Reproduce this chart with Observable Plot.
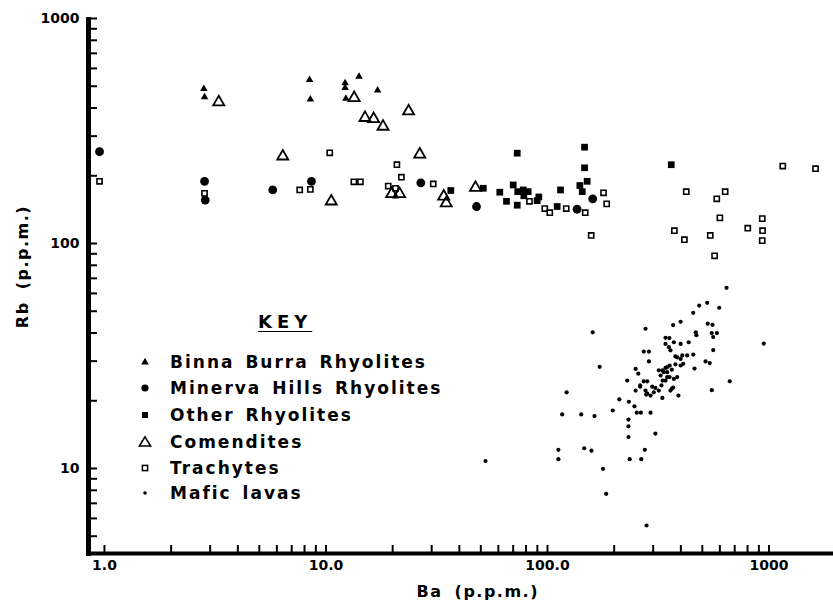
<!DOCTYPE html>
<html>
<head>
<meta charset="utf-8">
<script src="https://cdn.jsdelivr.net/npm/d3@7"></script>
<script src="https://cdn.jsdelivr.net/npm/@observablehq/plot@0.6"></script>
<style>
  html, body { margin: 0; padding: 0; background: #fff; }
  #wrap { position: relative; width: 833px; height: 605px; overflow: hidden; font-family: "DejaVu Sans", sans-serif; font-weight: bold; color: #000; }
  #wrap svg.plot { position: absolute; left: 0; top: 0; }
  .title { position: absolute; white-space: nowrap; font-size: 16px; letter-spacing: 1.5px; word-spacing: 5px; transform-origin: center; }
  #legend { position: absolute; left: 0; top: 0; }
  .row { position: absolute; left: 136px; height: 24px; display: flex; align-items: center; white-space: nowrap; font-size: 17px; letter-spacing: 2px; word-spacing: 3px; }
  .row svg { width: 18px; height: 18px; margin-right: 16px; }
  #key { position: absolute; left: 258px; top: 311px; font-size: 18px; letter-spacing: 5px; text-decoration: underline; text-underline-offset: 3px; }
</style>
</head>
<body>
<div id="wrap">
  <div class="title" id="ytitle">Rb (p.p.m.)</div>
  <div class="title" id="xtitle">Ba (p.p.m.)</div>
  <div id="legend"></div>
</div>
<script>
// ---- data (Ba ppm, Rb ppm) ----
const binnaBurra = [[2.81,487],[2.83,447],[8.43,534],[8.5,437],[12.2,516],[12.2,492],[12.3,441],[14.1,552],[17.1,479],[20.6,162]];
const minervaHills = [[0.95,256],[2.83,189],[2.85,156],[5.75,173],[8.6,189],[26.8,186],[47.8,146],[136,142],[160,158]];
const otherRhyolites = [[36.6,172],[51.3,176],[60.9,169],[65.3,154],[70.0,182],[73.0,252],[73.4,170],[77.7,173],[81.8,170],[78.2,163],[73.0,148],[89.8,155],[91.4,161],[110.6,146],[114.5,173],[147,268],[147,217],[151,189],[140,181],[143.5,170],[362,224]];
const comendites = [[3.28,425],[6.38,244],[10.56,154],[13.4,444],[15.0,362],[16.4,358],[18.1,331],[23.6,387],[26.5,249],[19.8,166],[21.5,166],[34.0,162],[34.9,151],[47.3,177]];
const trachytes = [[0.95,189],[2.83,167],[7.61,173],[8.5,174],[10.4,253],[13.36,188],[14.3,188],[19.1,180],[20.6,176],[20.9,224],[21.9,197],[30.5,184],[82.9,154],[97.2,143],[102.4,137],[121.5,143],[148,137],[157.5,108.6],[179,168],[185,150],[423,170],[634,170],[581,158],[600,130],[932,129],[802,117],[935,114],[932,103],[374,114],[415,104],[543,108.6],[568,88.2],[1154,221],[1622,215]];
const maficLavas = [[643,63.5],[526,54.5],[484,53.0],[596,51.8],[455,49.2],[399,44.9],[369,43.4],[529,44.0],[556,43.5],[277,41.8],[160,40.3],[467,40.3],[470,39.1],[551,40.0],[582,40.0],[560,38.4],[947,35.9],[341,38.1],[355,38.0],[341,35.8],[353,34.6],[359,33.5],[372,36.4],[399,35.8],[434,36.4],[560,33.6],[272,33.1],[287,33.1],[287,29.9],[517,29.9],[540,29.4],[172,28.3],[461,27.8],[385,31.2],[406,31.8],[427,31.8],[455,32.1],[378,31.5],[399,30.7],[410,29.2],[378,29.0],[399,28.7],[356,28.7],[341,28.0],[347,26.8],[364,27.5],[318,27.3],[330,27.3],[347,28.2],[250,27.7],[257,26.4],[229,24.6],[272,24.4],[282,24.4],[324,25.9],[331,24.6],[327,23.4],[318,22.2],[347,25.5],[372,25.0],[297,23.1],[307,22.8],[277,22.2],[282,21.5],[292,21.1],[302,21.8],[250,22.2],[262,23.4],[364,22.6],[359,22.2],[330,20.6],[390,21.1],[665,24.4],[552,22.3],[122,21.8],[211,20.3],[233,19.8],[247,18.9],[197,18.1],[253,17.7],[264,17.7],[292,17.7],[116.5,17.4],[142,17.4],[163,17.1],[232,16.5],[232,15.4],[232,13.8],[307,14.3],[112,12.1],[112,11.0],[146.5,12.3],[158,12.0],[275,12.1],[235,11.0],[265,11.0],[178,9.97],[184,7.72],[280,5.58],[52.5,10.8],[341,24.6],[356,25.5],[385,25.5],[335,26.8],[369,22.9],[279,21.3],[262,23.1]];

const xDomain = [0.847, 1955];
const yDomain = [4.19, 1000];
const xTickValues = [1,2,3,4,5,6,7,8,9,10,20,30,40,50,60,70,80,90,100,200,300,400,500,600,700,800,900,1000];
const yTickValues = [5,6,7,8,9,10,20,30,40,50,60,70,80,90,100,200,300,400,500,600,700,800,900,1000];
const xLabelValues = [1,10,100,1000];
const xLabelTexts = ["1.0","10.0","100.0","1000"];
const yLabelValues = [10,100,1000];
const yLabelTexts = ["10","100","1000"];

const seriesNames = ["Binna Burra Rhyolites","Minerva Hills Rhyolites","Other Rhyolites","Comendites","Trachytes","Mafic lavas"];

const W = 833, H = 605;
const mL = 88, mR = 0, mT = 18, mB = 52;
const innerW = W - mL - mR, innerH = H - mT - mB;

const font = {fontFamily: "DejaVu Sans", fontWeight: "bold"};

const chart = Plot.plot({
  width: W, height: H,
  marginLeft: mL, marginRight: mR, marginTop: mT, marginBottom: mB,
  x: {type: "log", domain: xDomain, axis: null},
  y: {type: "log", domain: yDomain, axis: null},
  style: {background: "white", overflow: "visible"},
  marks: [
    // minor/major ticks pointing inward
    Plot.tickY(yTickValues, {y: d => d, stroke: "black", strokeWidth: 2, insetRight: innerW - 9}),
    Plot.tickX(xTickValues, {x: d => d, stroke: "black", strokeWidth: 2, insetTop: innerH - 8}),
    // axis lines
    Plot.ruleX([xDomain[0]], {stroke: "black", strokeWidth: 5, insetTop: -1, insetBottom: -3}),
    Plot.ruleY([yDomain[0]], {stroke: "black", strokeWidth: 4, insetLeft: 3}),
    // tick labels
    Plot.text(yLabelValues, {y: d => d, text: (d, i) => yLabelTexts[i], frameAnchor: "left", textAnchor: "end", dx: -9, fontSize: 14, ...font}),
    Plot.text(xLabelValues, {x: d => d, text: (d, i) => xLabelTexts[i], frameAnchor: "bottom", dy: 16, fontSize: 14, ...font}),
    // data
    Plot.dot(maficLavas, {x: d => d[0], y: d => d[1], r: 2.1, fill: "black", stroke: null}),
    Plot.dot(otherRhyolites, {x: d => d[0], y: d => d[1], symbol: "square", r: 3.8, fill: "black", stroke: null}),
    Plot.dot(minervaHills, {x: d => d[0], y: d => d[1], r: 4.4, fill: "black", stroke: null}),
    Plot.dot(binnaBurra, {x: d => d[0], y: d => d[1], symbol: "triangle", r: 2.8, fill: "black", stroke: null}),
    Plot.dot(trachytes, {x: d => d[0], y: d => d[1], symbol: "square", r: 2.9, fill: "white", stroke: "black", strokeWidth: 1.6}),
    Plot.dot(comendites, {x: d => d[0], y: d => d[1], symbol: "triangle", r: 4.1, fill: "none", stroke: "black", strokeWidth: 1.8})
  ]
});
chart.classList.add("plot");
const wrap = document.getElementById("wrap");
wrap.insertBefore(chart, wrap.firstChild);

// axis titles
const yt = document.getElementById("ytitle");
const xt = document.getElementById("xtitle");
function placeCentered(el, cx, cy, rot) {
  const w = el.offsetWidth, h = el.offsetHeight;
  el.style.left = (cx - w / 2) + "px";
  el.style.top = (cy - h / 2) + "px";
  if (rot) el.style.transform = "rotate(" + rot + "deg)";
}
placeCentered(yt, 22, 266, -90);
placeCentered(xt, 478, 591, 0);

// legend (KEY)
const legend = document.getElementById("legend");
const key = document.createElement("div");
key.id = "key"; key.textContent = "KEY";
legend.appendChild(key);
const symbolSvgs = [
  '<svg viewBox="-9 -9 18 18"><path d="M0,-4.2L3.8,2.6L-3.8,2.6Z" fill="black"/></svg>',
  '<svg viewBox="-9 -9 18 18"><circle r="3.6" fill="black"/></svg>',
  '<svg viewBox="-9 -9 18 18"><rect x="-3" y="-3" width="6" height="6" fill="black"/></svg>',
  '<svg viewBox="-9 -9 18 18"><path d="M0,-5.2L5.6,4L-5.6,4Z" fill="none" stroke="black" stroke-width="1.6"/></svg>',
  '<svg viewBox="-9 -9 18 18"><rect x="-2.6" y="-2.6" width="5.2" height="5.2" fill="white" stroke="black" stroke-width="1.5"/></svg>',
  '<svg viewBox="-9 -9 18 18"><circle r="1.8" fill="black"/></svg>'
];
const rowCenters = [362, 388, 415, 442, 468, 493];
seriesNames.forEach((name, i) => {
  const row = document.createElement("div");
  row.className = "row";
  row.style.top = (rowCenters[i] - 12) + "px";
  row.innerHTML = symbolSvgs[i] + "<span>" + name + "</span>";
  legend.appendChild(row);
});
</script>
</body>
</html>
